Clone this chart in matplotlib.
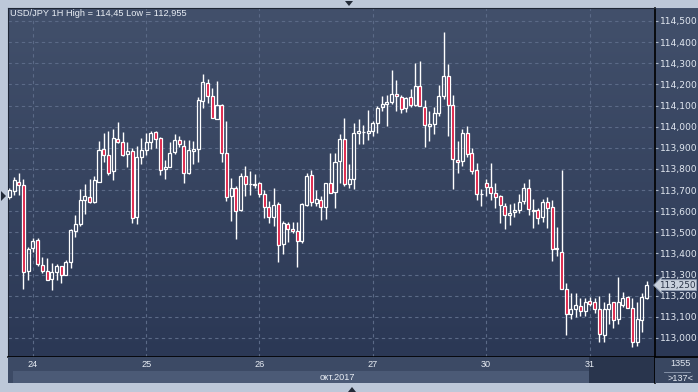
import numpy as np
import matplotlib
matplotlib.use('Agg')
import matplotlib.pyplot as plt
from matplotlib.patches import Rectangle, Polygon
from matplotlib.colors import LinearSegmentedColormap
from matplotlib.transforms import blended_transform_factory

# hourly USD/JPY candles
opens = [113.667, 113.694, 113.738, 113.724, 113.317, 113.424, 113.464, 113.344, 113.317, 113.280,
         113.313, 113.339, 113.298, 113.360, 113.505, 113.539, 113.653, 113.669, 113.642, 113.738,
         113.894, 113.865, 113.790, 113.941, 113.927, 113.870, 113.884, 113.572, 113.856, 113.891,
         113.927, 113.974, 113.946, 113.799, 113.809, 113.878, 113.936, 113.908, 113.783, 113.883,
         113.894, 114.120, 114.206, 114.143, 114.035, 114.102, 113.873, 113.670, 113.709, 113.604,
         113.766, 113.728, 113.727, 113.733, 113.681, 113.620, 113.572, 113.635, 113.445, 113.541,
         113.516, 113.506, 113.457, 113.629, 113.771, 113.639, 113.653, 113.618, 113.733, 113.692,
         113.837, 113.943, 113.730, 113.753, 113.971, 113.974, 113.971, 113.980, 114.015, 114.094,
         114.108, 114.118, 114.156, 114.141, 114.089, 114.141, 114.103, 114.193, 114.094, 114.003,
         114.014, 114.066, 114.145, 114.239, 114.103, 113.843, 113.837, 113.971, 113.876, 113.793,
         113.682, 113.734, 113.715, 113.687, 113.672, 113.626, 113.583, 113.596, 113.607, 113.648,
         113.711, 113.607, 113.604, 113.574, 113.645, 113.620, 113.420, 113.407, 113.231, 113.113,
         113.139, 113.152, 113.128, 113.176, 113.168, 113.136, 113.013, 113.139, 113.168, 113.089,
         113.157, 113.196, 113.144, 112.979, 113.087, 113.191]
highs = [113.712, 113.761, 113.780, 113.754, 113.431, 113.473, 113.473, 113.383, 113.379, 113.355,
         113.352, 113.339, 113.371, 113.517, 113.583, 113.705, 113.728, 113.754, 113.765, 113.930,
         113.972, 113.980, 113.990, 114.023, 113.974, 113.928, 113.900, 113.909, 113.946, 113.972,
         113.980, 113.979, 113.950, 113.843, 113.927, 113.966, 113.957, 113.938, 113.938, 113.933,
         114.138, 114.248, 114.224, 114.185, 114.217, 114.108, 114.027, 113.757, 113.717, 113.780,
         113.814, 113.788, 113.777, 113.736, 113.702, 113.646, 113.708, 113.642, 113.554, 113.550,
         113.547, 113.550, 113.638, 113.780, 113.795, 113.702, 113.673, 113.733, 113.873, 113.876,
         113.963, 114.042, 113.821, 114.018, 114.034, 114.010, 114.077, 114.029, 114.097, 114.144,
         114.152, 114.266, 114.219, 114.152, 114.140, 114.176, 114.299, 114.310, 114.124, 114.074,
         114.094, 114.195, 114.450, 114.297, 114.151, 113.932, 113.987, 114.003, 113.897, 113.826,
         113.703, 113.750, 113.826, 113.735, 113.675, 113.640, 113.632, 113.637, 113.680, 113.735,
         113.754, 113.656, 113.617, 113.656, 113.669, 113.651, 113.527, 113.793, 113.259, 113.212,
         113.212, 113.191, 113.187, 113.196, 113.187, 113.199, 113.168, 113.212, 113.171, 113.289,
         113.218, 113.199, 113.187, 113.172, 113.212, 113.270]
lows = [113.660, 113.678, 113.678, 113.234, 113.276, 113.405, 113.339, 113.308, 113.275, 113.229,
        113.276, 113.261, 113.298, 113.331, 113.478, 113.531, 113.587, 113.639, 113.639, 113.738,
        113.835, 113.772, 113.746, 113.922, 113.859, 113.807, 113.544, 113.539, 113.823, 113.864,
        113.894, 113.900, 113.772, 113.752, 113.809, 113.870, 113.906, 113.735, 113.776, 113.823,
        113.832, 114.086, 114.111, 114.040, 114.035, 113.835, 113.647, 113.555, 113.470, 113.600,
        113.670, 113.678, 113.708, 113.665, 113.568, 113.544, 113.528, 113.360, 113.397, 113.453,
        113.497, 113.336, 113.450, 113.626, 113.626, 113.626, 113.557, 113.563, 113.686, 113.616,
        113.734, 113.719, 113.711, 113.703, 113.916, 113.916, 113.939, 113.955, 113.971, 114.074,
        114.003, 114.105, 114.074, 114.066, 114.070, 114.094, 114.097, 114.097, 113.903, 113.932,
        113.963, 114.050, 114.132, 113.955, 113.704, 113.782, 113.813, 113.857, 113.774, 113.651,
        113.624, 113.674, 113.651, 113.617, 113.546, 113.517, 113.533, 113.574, 113.593, 113.632,
        113.580, 113.522, 113.538, 113.549, 113.522, 113.365, 113.388, 113.231, 113.013, 113.092,
        113.097, 113.105, 113.105, 113.152, 113.120, 112.982, 112.979, 113.065, 113.045, 113.065,
        113.147, 113.144, 112.955, 112.960, 113.026, 113.184]
closes = [113.702, 113.749, 113.724, 113.313, 113.421, 113.457, 113.350, 113.317, 113.275, 113.313,
          113.339, 113.298, 113.360, 113.511, 113.539, 113.653, 113.670, 113.642, 113.747, 113.891,
          113.864, 113.783, 113.944, 113.927, 113.864, 113.884, 113.568, 113.856, 113.891, 113.927,
          113.969, 113.941, 113.794, 113.810, 113.875, 113.936, 113.917, 113.783, 113.891, 113.894,
          114.125, 114.210, 114.143, 114.040, 114.102, 113.873, 113.669, 113.711, 113.602, 113.766,
          113.728, 113.727, 113.726, 113.681, 113.620, 113.572, 113.629, 113.440, 113.546, 113.516,
          113.508, 113.457, 113.635, 113.766, 113.642, 113.657, 113.618, 113.733, 113.686, 113.834,
          113.943, 113.727, 113.753, 113.971, 113.980, 113.973, 113.980, 114.015, 114.089, 114.108,
          114.118, 114.156, 114.143, 114.085, 114.135, 114.103, 114.193, 114.100, 114.006, 114.014,
          114.066, 114.145, 114.239, 114.103, 113.848, 113.832, 113.971, 113.872, 113.790, 113.679,
          113.682, 113.715, 113.687, 113.668, 113.628, 113.583, 113.593, 113.604, 113.645, 113.711,
          113.612, 113.601, 113.569, 113.645, 113.617, 113.420, 113.424, 113.231, 113.113, 113.139,
          113.157, 113.128, 113.172, 113.160, 113.136, 113.017, 113.136, 113.160, 113.084, 113.168,
          113.191, 113.144, 112.979, 113.089, 113.196, 113.253]

price_ticks = [113.0, 113.1, 113.2, 113.3, 113.4, 113.5, 113.6, 113.7,
               113.8, 113.9, 114.0, 114.1, 114.2, 114.3, 114.4, 114.5]
day_labels = ['24', '25', '26', '27', '30', '31']
day_starts = [5, 29, 53, 77, 101, 123]
last_price = 113.25

W, H = 698, 392
RED = '#dc143c'
FRAME = '#bdc8d9'


def px_rect(x0, y0, x1, y1):
    # pixel box (from top-left) -> figure fraction rect
    return [x0 / W, 1 - y1 / H, (x1 - x0) / W, (y1 - y0) / H]


def px_pt(x, y):
    return (x / W, 1 - y / H)


fig = plt.figure(figsize=(W / 100, H / 100), dpi=100, facecolor=FRAME)

# gradient background behind plot and price scale
bg = fig.add_axes(px_rect(8, 8, 698, 357))
grad = np.linspace(0, 1, 256).reshape(-1, 1)
cmap = LinearSegmentedColormap.from_list('bg', ['#42506b', '#2b3855'])
bg.imshow(grad, aspect='auto', cmap=cmap, extent=[0, 1, 0, 1])
bg.axis('off')

ax = fig.add_axes(px_rect(8, 8, 655, 357))
ax.patch.set_alpha(0)
xlim = (-0.28, 136.8)
ax.set_xlim(*xlim)
ax.set_ylim(112.910, 114.5615)

for p in price_ticks:
    ax.axhline(p, color='#5b6a87', lw=0.8, ls=(0, (3, 3)), zorder=0)
for d in day_starts:
    ax.axvline(d, color='#5b6a87', lw=0.8, ls=(0, (3, 3)), zorder=0)

o = np.array(opens)
h = np.array(highs)
l = np.array(lows)
c = np.array(closes)
x = np.arange(len(o))
top = np.maximum(o, c)
bot = np.minimum(o, c)

# wicks drawn only outside the body so hollow candles stay hollow
ax.vlines(x, top, np.maximum(h, top), color='white', lw=1, zorder=2)
ax.vlines(x, np.minimum(l, bot), bot, color='white', lw=1, zorder=2)
fills = [RED if cc < oo else 'none' for oo, cc in zip(o, c)]
ax.bar(x, top - bot, bottom=bot, width=0.64, color=fills,
       edgecolor='white', linewidth=0.9, zorder=3)

ax.set_xticks([])
ax.yaxis.tick_right()
ax.set_yticks(price_ticks)
ax.set_yticklabels([f'{p:.3f}'.replace('.', ',') for p in price_ticks])
ax.tick_params(axis='y', length=2, width=0.8, color='#aab6c8',
               labelcolor='#e2e8f1', labelsize=6.6, pad=1.5)
for s in ['left', 'top']:
    ax.spines[s].set_color('#1e2636')
for s in ['right', 'bottom']:
    ax.spines[s].set_color('black')
    ax.spines[s].set_linewidth(1.2)

# current price flag
tr = blended_transform_factory(ax.transAxes, ax.transData)
ax.text(1.0065, last_price, f'{last_price:.3f}'.replace('.', ','), transform=tr,
        fontsize=6.4, color='#2a3448', va='center', ha='left', zorder=5,
        bbox=dict(boxstyle='larrow,pad=0.1', fc='#c9d1dd', ec='#8e9bb0', lw=0.6))

fig.text(*px_pt(10, 14), 'USD/JPY 1H High = 114,45 Low = 112,955',
         fontsize=6.7, color='#e8edf4', va='center', ha='left',
         family='Liberation Sans')

# time strip under the chart
bs = fig.add_axes(px_rect(8, 357, 655, 383))
bs.set_xlim(*xlim)
bs.set_ylim(0, 1)
bs.set_facecolor('#3c4a65')
bs.set_xticks([])
bs.set_yticks([])
for s in ['left', 'top', 'bottom']:
    bs.spines[s].set_visible(False)
bs.spines['right'].set_color('black')
bs.spines['right'].set_linewidth(1.2)
bs.add_patch(Rectangle((0.8, 0), day_starts[-1] - 0.8, 0.46, fc='#4b5a76', ec='none'))
bs.add_patch(Rectangle((day_starts[-1] - 0.2, 0), xlim[1], 1, fc='#29354d', ec='none'))
for d, lab in zip(day_starts, day_labels):
    bs.text(d, 0.72, lab, ha='center', va='center', fontsize=6.6,
            color='#e8edf4', family='Liberation Sans')
bs.text(69.5, 0.22, 'окт.2017', ha='center', va='center', fontsize=6.6,
        color='#e8edf4', family='Liberation Sans')

# bar counter box
fig.add_artist(Rectangle(px_pt(655, 383), 43 / W, 26 / H, transform=fig.transFigure,
                         fc='#394761', ec='none'))
fig.text(*px_pt(681, 364), '1355', fontsize=6.6, color='#e2e8f1',
         ha='center', va='center', family='Liberation Sans')
fig.text(*px_pt(681, 378.5), '>137<', fontsize=6.6, color='#e2e8f1',
         ha='center', va='center', family='Liberation Sans')
fig.add_artist(plt.Line2D([664 / W, 690 / W], [1 - 371.5 / H] * 2,
                          transform=fig.transFigure, color='#8e9bb0', lw=0.6))
fig.add_artist(plt.Line2D([655 / W, 698 / W], [1 - 357 / H] * 2,
                          transform=fig.transFigure, color='black', lw=1.2))

# small scroll markers on the frame
for pts in ([(345, 1), (353, 1), (349, 6)], [(348, 392), (356, 392), (352, 387)],
            [(1, 191), (1, 201), (6, 196)]):
    fig.add_artist(Polygon([px_pt(px, py) for px, py in pts], closed=True,
                           transform=fig.transFigure, fc='#222a38', ec='none'))

fig.savefig('out.png', dpi=100, facecolor=fig.get_facecolor())
